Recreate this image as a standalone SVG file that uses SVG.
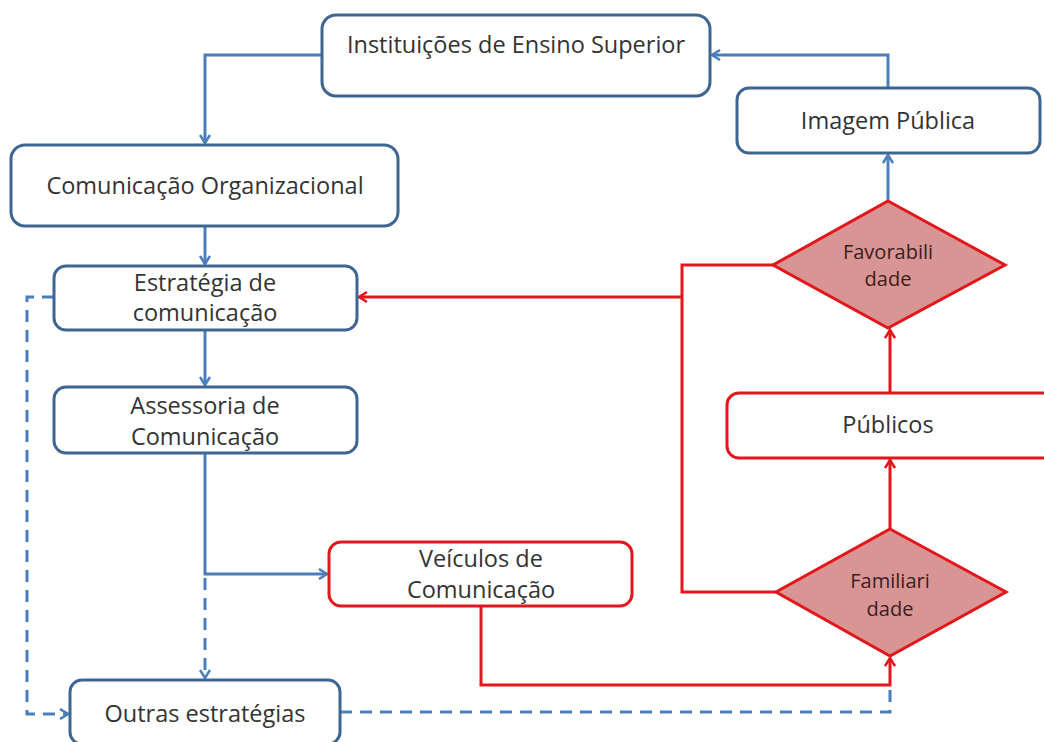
<svg xmlns="http://www.w3.org/2000/svg" width="1044" height="742" viewBox="0 0 1044 742">
<style>
.node{fill:#fff;stroke:#3f6593;stroke-width:3}
.rnode{fill:#fff;stroke:#e3161b;stroke-width:3}
.dia{fill:#d99594;stroke:#e3161b;stroke-width:3}
.t{font-family:"Open Sans",Lato,"Liberation Sans",sans-serif;font-size:23.5px;fill:#333;text-anchor:middle}
.td{font-family:"Open Sans",Lato,"Liberation Sans",sans-serif;font-size:20px;fill:#3a2020;text-anchor:middle}
.b{fill:none;stroke:#4a7ebb;stroke-width:3}
.bd{fill:none;stroke:#4a7ebb;stroke-width:3;stroke-dasharray:12 8}
.r{fill:none;stroke:#e3161b;stroke-width:3}
</style>
<defs>
<marker id="ab" viewBox="0 0 12 12" refX="10" refY="6" markerWidth="12" markerHeight="12" markerUnits="userSpaceOnUse" orient="auto">
<path d="M2,1 L10,6 L2,11" fill="none" stroke="#4a7ebb" stroke-width="2.5"/>
</marker>
<marker id="ar" viewBox="0 0 12 12" refX="10" refY="6" markerWidth="12" markerHeight="12" markerUnits="userSpaceOnUse" orient="auto">
<path d="M2,1 L10,6 L2,11" fill="none" stroke="#e3161b" stroke-width="2.5"/>
</marker>
</defs>
<g id="connectors">
<path class="b" d="M322,55 H205 V143" marker-end="url(#ab)"/>
<path class="b" d="M205,226 V264" marker-end="url(#ab)"/>
<path class="b" d="M205,330 V385" marker-end="url(#ab)"/>
<path class="b" d="M205,453 V574 H327" marker-end="url(#ab)"/>
<path class="bd" d="M205,578 V678" marker-end="url(#ab)"/>
<path class="bd" d="M54,297 H27 V714 H68" marker-end="url(#ab)"/>
<path class="bd" d="M340,712 H890 V686"/>
<path class="b" d="M888,88 V55 H712" marker-end="url(#ab)"/>
<path class="b" d="M888,201 V155" marker-end="url(#ab)"/>
<path class="r" d="M773,265 H682 V592 H776"/>
<path class="r" d="M682,297 H359" marker-end="url(#ar)"/>
<path class="r" d="M890,393 V330" marker-end="url(#ar)"/>
<path class="r" d="M890,529 V460" marker-end="url(#ar)"/>
<path class="r" d="M481,606 V685 H890 V658" marker-end="url(#ar)"/>
</g>
<g id="n-instituicoes">
<rect class="node" x="322" y="15" width="388" height="81" rx="14"/>
<text class="t" x="516" y="53">Instituições de Ensino Superior</text>
</g>
<g id="n-imagem">
<rect class="node" x="737" y="88" width="303" height="65" rx="12"/>
<text class="t" x="888" y="129">Imagem Pública</text>
</g>
<g id="n-comorg">
<rect class="node" x="11" y="145" width="387" height="81" rx="14"/>
<text class="t" x="205" y="194">Comunicação Organizacional</text>
</g>
<g id="n-estrategia">
<rect class="node" x="54" y="266" width="303" height="64" rx="12"/>
<text class="t" x="205" y="291">Estratégia de</text>
<text class="t" x="205" y="321">comunicação</text>
</g>
<g id="n-assessoria">
<rect class="node" x="54" y="387" width="303" height="66" rx="12"/>
<text class="t" x="205" y="414">Assessoria de</text>
<text class="t" x="205" y="445">Comunicação</text>
</g>
<g id="n-veiculos">
<rect class="rnode" x="329" y="542" width="303" height="64" rx="12"/>
<text class="t" x="481" y="567">Veículos de</text>
<text class="t" x="481" y="598">Comunicação</text>
</g>
<g id="n-outras">
<rect class="node" x="70" y="680" width="270" height="64" rx="12"/>
<text class="t" x="205" y="722">Outras estratégias</text>
</g>
<g id="n-publicos">
<rect class="rnode" x="727" y="393" width="330" height="65" rx="12"/>
<text class="t" x="888" y="433">Públicos</text>
</g>
<g id="n-favorabilidade">
<polygon class="dia" points="888,201 1005,265 888,328 773,265"/>
<text class="td" x="888" y="259">Favorabili</text>
<text class="td" x="888" y="286">dade</text>
</g>
<g id="n-familiaridade">
<polygon class="dia" points="890,529 1006,592 890,656 776,592"/>
<text class="td" x="890" y="588">Familiari</text>
<text class="td" x="890" y="616">dade</text>
</g>
</svg>
